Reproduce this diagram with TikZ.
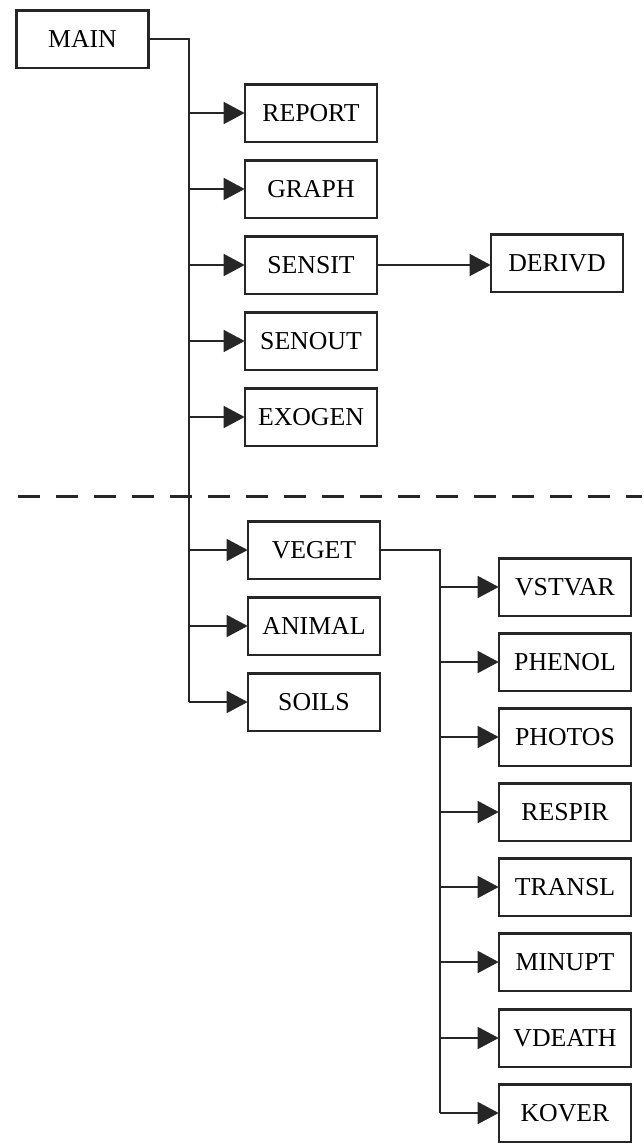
\documentclass[tikz,border=0pt]{standalone}
\usepackage{fontspec}
\setmainfont{Liberation Serif}
\usetikzlibrary{arrows.meta}

\tikzset{
  routine/.style={draw=black!85,line width=0.07cm,minimum width=3.95cm,minimum height=1.72cm,
    inner sep=0pt,font=\fontsize{22}{26}\selectfont},
  link/.style={black!85,line width=0.048cm},
  call/.style={link,-{Triangle[length=0.63cm,width=0.66cm]},shorten >=-0.02cm},
}

\begin{document}
\begin{tikzpicture}[x=0.03cm,y=-0.03cm]

\useasboundingbox (0,0) rectangle (644,1143);

% upper level
\node[routine] (main) at (82.5,39) {MAIN};
\node[routine] (report) at (311,113) {REPORT};
\node[routine] (graph) at (311,189) {GRAPH};
\node[routine] (sensit) at (311,265) {SENSIT};
\node[routine] (senout) at (311,341) {SENOUT};
\node[routine] (exogen) at (311,417) {EXOGEN};
\node[routine] (derivd) at (557,263) {DERIVD};

% lower level
\node[routine] (veget) at (314,550) {VEGET};
\node[routine] (animal) at (314,626) {ANIMAL};
\node[routine] (soils) at (314,702) {SOILS};

\node[routine] (vstvar) at (565,587) {VSTVAR};
\node[routine] (phenol) at (565,662) {PHENOL};
\node[routine] (photos) at (565,737) {PHOTOS};
\node[routine] (respir) at (565,812) {RESPIR};
\node[routine] (transl) at (565,887) {TRANSL};
\node[routine] (minupt) at (565,962) {MINUPT};
\node[routine] (vdeath) at (565,1038) {VDEATH};
\node[routine] (kover) at (565,1113) {KOVER};

\coordinate (trunk) at (189,0);
\coordinate (branch) at (440,0);

\draw[black!85,line width=0.09cm,dash pattern=on 0.66cm off 0.48cm] (18,496) -- (642,496);

\draw[link] (main.east) -| (trunk |- soils);
\draw[call] (trunk |- report) -- (report.west); %1
\draw[call] (trunk |- graph) -- (graph.west); %2
\draw[call] (trunk |- sensit) -- (sensit.west); %3
\draw[call] (trunk |- senout) -- (senout.west); %4
\draw[call] (trunk |- exogen) -- (exogen.west); %5
\draw[call] (trunk |- veget) -- (veget.west); %6
\draw[call] (trunk |- animal) -- (animal.west); %7
\draw[call] (trunk |- soils) -- (soils.west); %8

\draw[call] (sensit.east) -- (derivd.west |- sensit.east);

\draw[link] (veget.east) -| (branch |- kover);
\draw[call] (branch |- vstvar) -- (vstvar.west); %a
\draw[call] (branch |- phenol) -- (phenol.west); %b
\draw[call] (branch |- photos) -- (photos.west); %c
\draw[call] (branch |- respir) -- (respir.west); %d
\draw[call] (branch |- transl) -- (transl.west); %e
\draw[call] (branch |- minupt) -- (minupt.west); %f
\draw[call] (branch |- vdeath) -- (vdeath.west); %g
\draw[call] (branch |- kover) -- (kover.west); %h

\end{tikzpicture}
\end{document}
